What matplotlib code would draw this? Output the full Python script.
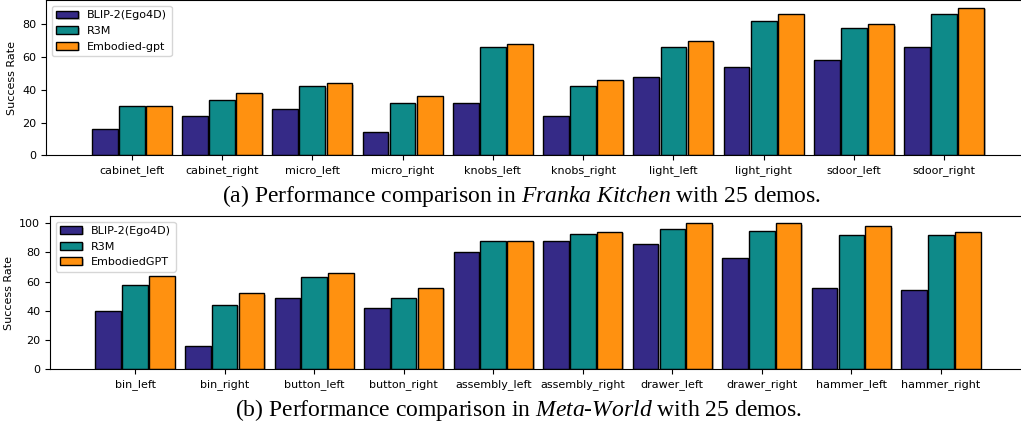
import matplotlib
matplotlib.use("Agg")
import matplotlib.pyplot as plt
import matplotlib.patheffects as pe
import numpy as np

plt.rcParams['mathtext.fontset'] = 'custom'
plt.rcParams['mathtext.rm'] = 'Liberation Serif'
plt.rcParams['mathtext.it'] = 'Liberation Serif:italic'

kitchen_tasks = ["cabinet_left", "cabinet_right", "micro_left", "micro_right", "knobs_left",
                 "knobs_right", "light_left", "light_right", "sdoor_left", "sdoor_right"]
kitchen_blip = [16, 24, 28, 14, 32, 24, 48, 54, 58, 66]
kitchen_r3m = [30, 34, 42, 32, 66, 42, 66, 82, 78, 86]
kitchen_emb = [30, 38, 44, 36, 68, 46, 70, 86, 80, 90]

mw_tasks = ["bin_left", "bin_right", "button_left", "button_right", "assembly_left",
            "assembly_right", "drawer_left", "drawer_right", "hammer_left", "hammer_right"]
mw_blip = [40, 16, 49, 42, 80, 88, 86, 76, 56, 54]
mw_r3m = [58, 44, 63, 49, 88, 93, 96, 95, 92, 92]
mw_emb = [64, 52, 66, 56, 88, 94, 100, 100, 98, 94]

colors = ['#352A87', '#0E8A89', '#FF9110']

W, H = 1021, 423
fig = plt.figure(figsize=(W / 100, H / 100), dpi=100)


def px_axes(left, top, right, bottom):
    return fig.add_axes([left / W, 1 - bottom / H, (right - left) / W, (bottom - top) / H])


shadow = [pe.SimplePatchShadow(offset=(1.2, -1.0), shadow_rgbFace='gray', alpha=0.5), pe.Normal()]


def draw(ax, tasks, series, labels):
    x = np.arange(len(tasks))
    offs = [-0.3, 0.0, 0.3]
    for vals, off, c, lab in zip(series, offs, colors, labels):
        bars = ax.bar(x + off, vals, width=0.285, color=c, edgecolor='black', linewidth=1.0, label=lab)
        for b in bars:
            b.set_path_effects(shadow)
    ax.set_xticks(x)
    ax.set_xticklabels(tasks, fontsize=8)
    ax.tick_params(axis='y', labelsize=8)
    ax.set_ylabel("Success Rate", fontsize=8)
    ax.set_xlim(-0.95, 9.95)
    ax.legend(loc='upper left', fontsize=8)


ax1 = px_axes(46, 0.5, 1030, 155.3)
draw(ax1, kitchen_tasks, [kitchen_blip, kitchen_r3m, kitchen_emb], ["BLIP-2(Ego4D)", "R3M", "Embodied-gpt"])
ax1.set_ylim(0, 94.5)
ax1.set_yticks([0, 20, 40, 60, 80])

ax2 = px_axes(50, 216, 1026, 369.3)
draw(ax2, mw_tasks, [mw_blip, mw_r3m, mw_emb], ["BLIP-2(Ego4D)", "R3M", "EmbodiedGPT"])
ax2.set_ylim(0, 105)
ax2.set_yticks([0, 20, 40, 60, 80, 100])

fig.text(521.5 / W, 1 - 196 / H, r"(a) Performance comparison in $\mathit{Franka\ Kitchen}$ with 25 demos.",
         family='Liberation Serif', fontsize=17, ha='center', va='center')
fig.text(519 / W, 1 - 410 / H, r"(b) Performance comparison in $\mathit{Meta\text{-}World}$ with 25 demos.",
         family='Liberation Serif', fontsize=17, ha='center', va='center')

fig.savefig("out.png", dpi=100)
